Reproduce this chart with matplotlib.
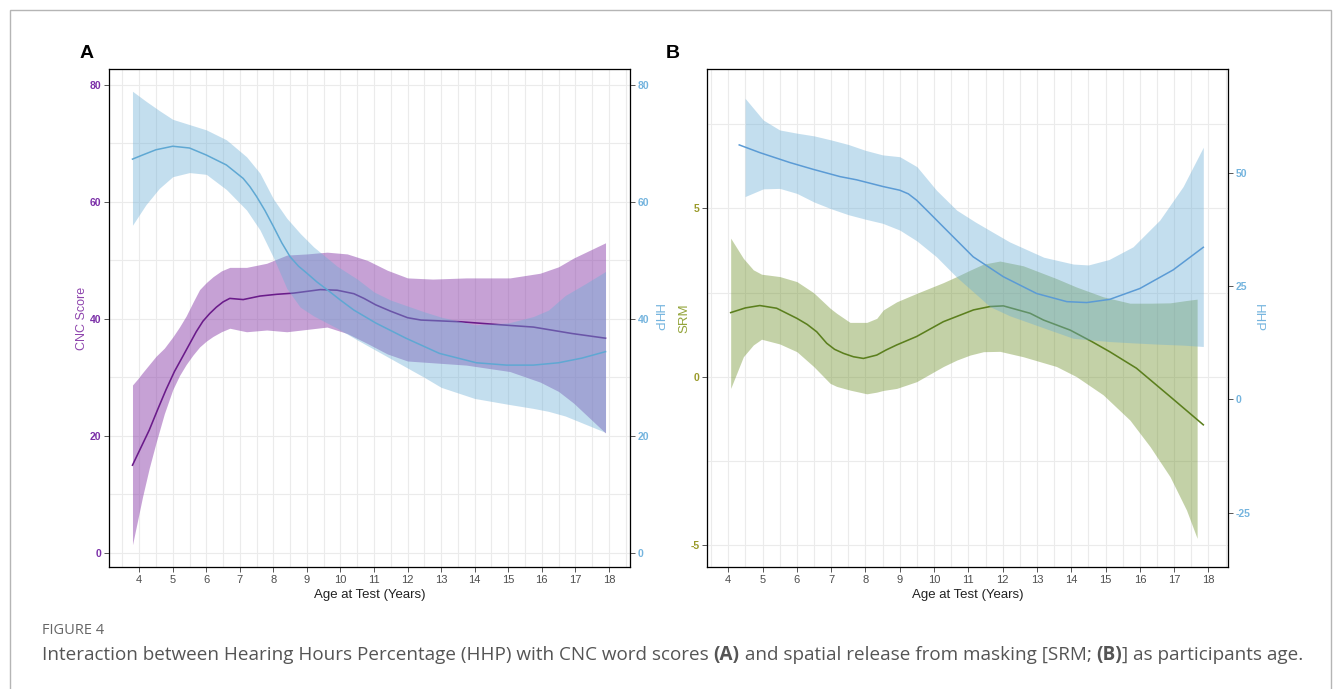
import numpy as np
import matplotlib
matplotlib.use("Agg")
import matplotlib.pyplot as plt
from matplotlib.patches import Rectangle

# ---- panel A : CNC score and HHP vs age ----
cnc_x = [3.8, 4.05, 4.3, 4.55, 4.8, 5.05, 5.3, 5.5, 5.7, 5.9, 6.1, 6.3, 6.5, 6.7, 6.9, 7.1,
         7.35, 7.6, 8.1, 8.6, 9.0, 9.4, 9.9, 10.4, 10.7, 11.05, 11.5, 12.0, 12.4, 13.6,
         14.75, 15.75, 16.9, 17.9]
cnc = [15.0, 18.0, 21.0, 24.5, 27.9, 31.0, 33.6, 35.7, 37.8, 39.6, 40.9, 42.0, 42.9, 43.5, 43.4, 43.3,
       43.6, 43.9, 44.2, 44.4, 44.7, 45.0, 44.9, 44.3, 43.5, 42.4, 41.3, 40.2, 39.8, 39.5,
       39.0, 38.6, 37.5, 36.7]
cnc_band_x = [3.8, 3.95, 4.1, 4.3, 4.5, 4.75, 5.0, 5.2, 5.4, 5.6, 5.8, 6.0, 6.2, 6.45, 6.7,
              7.2, 7.8, 8.4, 9.0, 9.6, 10.2, 10.8, 11.4, 12.0, 12.75, 13.75, 15.05, 15.95,
              16.5, 16.95, 17.9]
cnc_hi = [28.7, 29.7, 30.8, 32.2, 33.6, 35.0, 36.9, 38.6, 40.5, 42.8, 45.0, 46.2, 47.2, 48.2, 48.8,
          48.8, 49.5, 50.9, 51.1, 51.4, 51.1, 50.0, 48.3, 47.0, 46.8, 47.0, 47.0, 47.8,
          48.9, 50.4, 53.0]
cnc_lo = [1.4, 5.5, 9.6, 14.5, 18.8, 23.8, 27.9, 30.3, 32.2, 33.8, 35.2, 36.2, 37.0, 37.8, 38.4,
          37.8, 38.1, 37.8, 38.2, 38.6, 37.5, 35.8, 34.0, 32.8, 32.5, 32.1, 31.0, 29.2,
          27.6, 25.6, 20.5]

hhpA_x = [3.8, 4.1, 4.5, 5.0, 5.5, 6.0, 6.6, 7.1, 7.3, 7.5, 7.75, 8.0, 8.25, 8.5, 8.75, 9.0,
          9.3, 9.6, 10.0, 10.4, 11.05, 11.95, 12.95, 14.05, 14.95, 15.75, 16.5, 17.2, 17.9]
hhpA = [67.3, 68.0, 68.9, 69.5, 69.2, 68.0, 66.3, 64.0, 62.6, 60.9, 58.5, 55.8, 53.0, 50.6, 49.0, 47.8,
        46.3, 45.0, 43.2, 41.5, 39.3, 36.7, 34.1, 32.5, 32.1, 32.1, 32.5, 33.3, 34.4]
hhpA_band_x = [3.8, 4.2, 4.6, 5.0, 5.5, 6.0, 6.6, 7.2, 7.6, 8.0, 8.4, 8.8, 9.2, 9.9, 10.5,
               11.0, 11.5, 12.0, 12.5, 13.0, 14.0, 15.0, 15.75, 16.2, 16.7, 17.3, 17.9]
hhpA_hi = [78.9, 77.2, 75.6, 74.1, 73.2, 72.3, 70.6, 67.7, 64.9, 60.5, 57.2, 54.6, 52.3, 49.0, 46.8,
           44.6, 43.2, 42.2, 41.2, 40.3, 39.0, 39.3, 40.4, 41.5, 44.0, 46.0, 48.1]
hhpA_lo = [56.0, 59.5, 62.3, 64.3, 65.0, 64.7, 62.1, 58.6, 55.2, 50.5, 45.2, 42.0, 40.5, 38.4, 36.4,
           34.8, 33.2, 31.6, 30.0, 28.3, 26.4, 25.4, 24.7, 24.2, 23.4, 22.0, 20.6]

# ---- panel B : SRM and HHP vs age ----
srm_x = [4.07, 4.5, 4.92, 5.41, 6.0, 6.3, 6.58, 6.87, 7.1, 7.36, 7.65, 7.94, 8.33, 8.6, 8.91,
         9.49, 10.27, 11.15, 11.63, 12.02, 12.8, 13.19, 13.97, 14.6, 15.12, 15.9, 16.88, 17.85]
srm = [1.91, 2.05, 2.12, 2.04, 1.74, 1.56, 1.34, 1.0, 0.82, 0.70, 0.60, 0.55, 0.65, 0.80, 0.95,
       1.2, 1.64, 1.99, 2.09, 2.11, 1.89, 1.69, 1.39, 1.05, 0.75, 0.26, -0.58, -1.42]
srm_band_x = [4.07, 4.44, 4.73, 4.97, 5.5, 6.0, 6.49, 6.97, 7.16, 7.55, 8.04, 8.33, 8.52, 8.91,
              9.49, 10.27, 10.66, 11.05, 11.44, 11.92, 12.6, 13.57, 14.15, 14.93, 15.71, 16.3,
              16.88, 17.36, 17.67]
srm_hi = [4.12, 3.52, 3.18, 3.05, 2.98, 2.83, 2.5, 2.04, 1.89, 1.62, 1.62, 1.74, 1.99, 2.23,
          2.48, 2.8, 2.98, 3.17, 3.35, 3.44, 3.30, 2.92, 2.67, 2.38, 2.19, 2.19,
          2.20, 2.27, 2.31]
srm_lo = [-0.34, 0.60, 0.95, 1.12, 0.98, 0.75, 0.31, -0.19, -0.28, -0.39, -0.50, -0.45, -0.40, -0.34,
          -0.14, 0.31, 0.50, 0.65, 0.75, 0.76, 0.60, 0.31, 0.01, -0.53, -1.28, -2.07,
          -2.96, -3.95, -4.79]

hhpB_x = [4.32, 4.92, 5.8, 6.48, 7.26, 7.74, 8.52, 9.0, 9.25, 9.49, 9.85, 10.27, 11.14, 12.02,
          12.99, 13.87, 14.45, 15.12, 16.0, 16.97, 17.85]
hhpB = [56.2, 54.5, 52.3, 50.8, 49.2, 48.5, 47.0, 46.2, 45.4, 44.0, 41.3, 38.1, 31.5, 27.1,
        23.4, 21.6, 21.4, 22.1, 24.5, 28.6, 33.6]
hhpB_band_x = [4.49, 5.02, 5.5, 6.0, 6.5, 7.0, 7.5, 8.0, 8.5, 9.0, 9.5, 10.07, 10.66, 11.2,
               11.63, 12.2, 13.2, 14.06, 14.5, 15.1, 15.8, 16.58, 17.26, 17.85]
hhpB_hi = [66.5, 61.7, 59.5, 58.8, 58.2, 57.3, 56.3, 55.0, 54.0, 53.6, 51.4, 46.2, 41.8, 39.2,
           37.3, 34.8, 31.4, 29.9, 29.7, 30.9, 33.7, 39.6, 47.0, 55.7]
hhpB_lo = [44.8, 46.5, 46.6, 45.5, 43.6, 42.1, 40.8, 39.8, 38.9, 37.4, 35.0, 31.5, 27.0, 23.4,
           20.5, 18.5, 15.8, 13.5, 13.2, 12.8, 12.5, 12.2, 12.0, 11.7]

age_ticks = list(range(4, 19))

W, H = 1333, 689
fig = plt.figure(figsize=(W / 100, H / 100), dpi=100)
plt.rcParams['font.family'] = ['Liberation Sans', 'DejaVu Sans']
plt.rcParams['axes.unicode_minus'] = False

# light frame around the whole figure
fig.patches.append(Rectangle((10 / W, -0.1), 1321 / W, 1.1 - 10 / H, transform=fig.transFigure,
                             fill=False, edgecolor='#b5b5b5', lw=1))

def px_axes(l, t, r, b):
    return fig.add_axes([l / W, 1 - b / H, (r - l) / W, (b - t) / H])

def style(ax, xlim):
    ax.set_xlim(*xlim)
    ax.set_xticks(age_ticks)
    ax.set_xticks(np.arange(3.5, 19, 1), minor=True)
    ax.grid(True, which='both', color='#ebebeb', lw=0.8)
    ax.set_axisbelow(True)
    for s in ax.spines.values():
        s.set_color('#555555')
        s.set_linewidth(0.9)
    ax.tick_params(which='major', length=3.5, width=0.7, color='#555555', pad=2)
    ax.tick_params(which='minor', length=0)
    ax.tick_params(axis='x', labelsize=8, labelcolor='#4d4d4d')
    ax.set_xlabel('Age at Test (Years)', fontsize=9.5, color='#222222', labelpad=3)

def right_axis(ax, lim, ticks):
    ax.set_ylim(*lim)
    ax.set_yticks(ticks)
    ax.tick_params(axis='y', labelsize=7.5, labelcolor='#74b4de', length=3.5, width=0.7,
                   color='#555555', pad=2)
    for t in ax.get_yticklabels():
        t.set_fontweight('bold')
    ax.set_ylabel('HHP', fontsize=9.5, color='#74b4de', rotation=-90, labelpad=1, va='bottom')

purple, purple_fill = '#6a1b8a', '#8e44ad'
blue_a, blue_fill = '#5fa8d3', '#6baed6'
green, green_fill = '#5b7f1d', '#6b8e23'
blue_b = '#5b9bd5'

# ----- panel A -----
axA = px_axes(109, 69, 630, 567)
style(axA, (3.1, 18.63))
axA.set_ylim(-2.4, 82.7)
axA.set_yticks([0, 20, 40, 60, 80])
axA.set_yticks([10, 30, 50, 70], minor=True)
axA.fill_between(cnc_band_x, cnc_lo, cnc_hi, color=purple_fill, alpha=0.5, lw=0)
axA.plot(cnc_x, cnc, color=purple, lw=1.15)
axA.tick_params(axis='y', labelsize=7.5, labelcolor='#7b2fa8')
for t in axA.get_yticklabels():
    t.set_fontweight('bold')
axA.set_ylabel('CNC Score', fontsize=9, color='#8e44ad', labelpad=1)

axA2 = axA.twinx()
right_axis(axA2, (-2.4, 82.7), [0, 20, 40, 60, 80])
axA2.fill_between(hhpA_band_x, hhpA_lo, hhpA_hi, color=blue_fill, alpha=0.4, lw=0)
axA2.plot(hhpA_x, hhpA, color=blue_a, lw=1.1)

# ----- panel B -----
axB = px_axes(707, 69, 1228, 567)
style(axB, (3.38, 18.57))
axB.set_ylim(-5.64, 9.14)
axB.set_yticks([-5, 0, 5])
axB.set_yticks([-2.5, 2.5, 7.5], minor=True)
axB.fill_between(srm_band_x, srm_lo, srm_hi, color=green_fill, alpha=0.4, lw=0)
axB.plot(srm_x, srm, color=green, lw=1.15)
axB.tick_params(axis='y', labelsize=7.5, labelcolor='#9a9a2a')
for t in axB.get_yticklabels():
    t.set_fontweight('bold')
axB.set_ylabel('SRM', fontsize=9.5, color='#93a43a', labelpad=0)

axB2 = axB.twinx()
right_axis(axB2, (-36.98, 72.96), [-25, 0, 25, 50])
axB2.fill_between(hhpB_band_x, hhpB_lo, hhpB_hi, color=blue_fill, alpha=0.4, lw=0)
axB2.plot(hhpB_x, hhpB, color=blue_b, lw=1.1)

# panel letters
fig.text(87 / W, 1 - 53 / H, 'A', fontsize=14, fontweight='bold', ha='center', va='center')
fig.text(673 / W, 1 - 53 / H, 'B', fontsize=14, fontweight='bold', ha='center', va='center')

# caption
fig.text(42 / W, 1 - 630 / H, 'FIGURE 4', fontsize=10.5, color='#666666', va='center',
         family=['Open Sans', 'DejaVu Sans'])
pieces = [("Interaction between Hearing Hours Percentage (HHP) with CNC word scores ", 'normal'),
          ("(A)", 'bold'),
          (" and spatial release from masking [SRM; ", 'normal'),
          ("(B)", 'bold'),
          ("] as participants age.", 'normal')]
renderer = fig.canvas.get_renderer()
xpos = 42
for s, w in pieces:
    t = fig.text(xpos / W, 1 - 655 / H, s, fontsize=13.6, color='#555555', fontweight=w,
                 va='center', family=['Open Sans', 'DejaVu Sans'])
    bb = t.get_window_extent(renderer)
    xpos += bb.width

fig.savefig('out.png', dpi=100)
